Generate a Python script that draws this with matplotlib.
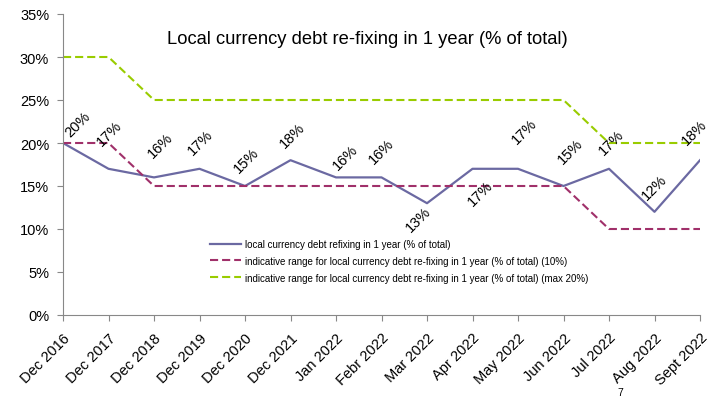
import matplotlib
matplotlib.use('Agg')
import matplotlib.pyplot as plt

plt.rcParams['font.family'] = ['Liberation Sans', 'DejaVu Sans']

categories = ['Dec 2016', 'Dec 2017', 'Dec 2018', 'Dec 2019', 'Dec 2020', 'Dec 2021',
              'Jan 2022', 'Febr 2022', 'Mar 2022', 'Apr 2022', 'May 2022', 'Jun 2022',
              'Jul 2022', 'Aug 2022', 'Sept 2022']
refixing = [20, 17, 16, 17, 15, 18, 16, 16, 13, 17, 17, 15, 17, 12, 18]
range_low = [20, 20, 15, 15, 15, 15, 15, 15, 15, 15, 15, 15, 10, 10, 10]
range_max = [30, 30, 25, 25, 25, 25, 25, 25, 25, 25, 25, 25, 20, 20, 20]

# label offsets (pixels) for the data labels, like the hand-placed ones in the original
label_offsets = [(15, 19), (1, 36), (6, 33), (1, 27), (1, 26), (2, 25), (9, 21), (0, 27),
                 (-9, -16), (8, -24), (6, 38), (7, 35), (2, 27), (0, 25), (-6, 28)]

fig = plt.figure(figsize=(7.11, 4.02), dpi=100)
ax = fig.add_axes([63/711, 1-316/402, (700-63)/711, (316-15)/402])

x = list(range(len(categories)))
dash = (0, (3.9, 1.9))
ax.plot(x, refixing, color='#6B69A2', lw=1.6,
        label='local currency debt refixing in 1 year (% of total)')
ax.plot(x, range_low, color='#A0306A', lw=1.5, linestyle=dash,
        label='indicative range for local currency debt re-fixing in 1 year (% of total) (10%)')
ax.plot(x, range_max, color='#99CC00', lw=1.5, linestyle=dash,
        label='indicative range for local currency debt re-fixing in 1 year (% of total) (max 20%)')

for i, v in enumerate(refixing):
    dx, dy = label_offsets[i]
    ax.annotate('%d%%' % v, (i, v), xytext=(dx*0.72, dy*0.72), textcoords='offset points',
                ha='center', va='center', rotation=45, fontsize=10.5)

ax.set_xlim(0, len(categories)-1)
ax.set_ylim(0, 35)
ax.set_yticks(range(0, 36, 5))
ax.set_yticklabels(['%d%%' % t for t in range(0, 36, 5)], fontsize=10.5)
ax.set_xticks(x)
ax.set_xticklabels(categories, rotation=45, ha='right', rotation_mode='anchor', fontsize=10.5)
ax.tick_params(axis='both', length=4, color='#888888', width=0.8)
ax.tick_params(axis='x', pad=7)
ax.tick_params(axis='y', pad=6)

for s in ['top', 'right']:
    ax.spines[s].set_visible(False)
for s in ['left', 'bottom']:
    ax.spines[s].set_color('#888888')
ax.spines['left'].set_linewidth(0.8)
ax.spines['bottom'].set_linewidth(0.8)

ax.text(367/711, 1-40/402, 'Local currency debt re-fixing in 1 year (% of total)',
        transform=fig.transFigure, ha='center', va='center', fontsize=13.2)

ax.legend(loc='upper left', bbox_to_anchor=(210/711, 1-240/402), bbox_transform=fig.transFigure,
          frameon=False, fontsize=7.0, handlelength=3.2, handletextpad=0.45, labelspacing=0.7,
          borderpad=0, borderaxespad=0)

fig.text(620/711, 1-393/402, '7', ha='center', va='center', fontsize=7.5)

fig.savefig('out.png', dpi=100)
